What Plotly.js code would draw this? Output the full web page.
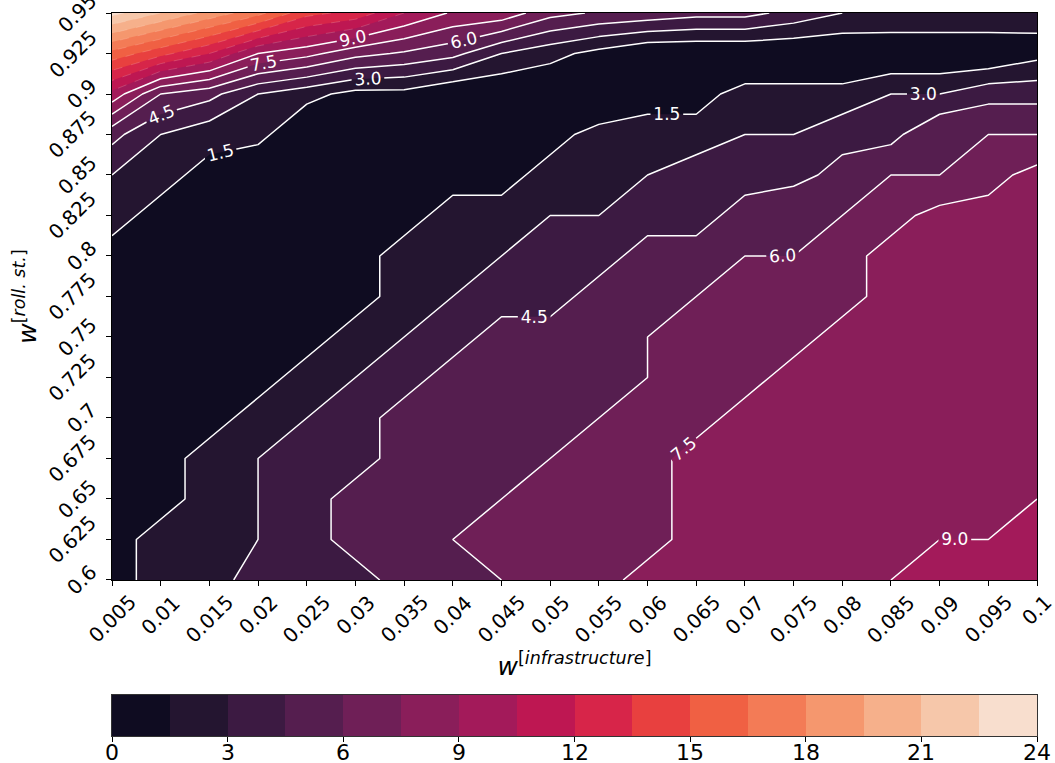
<!DOCTYPE html>
<html>
<head>
<meta charset="utf-8">
<script src="https://cdn.plot.ly/plotly-3.0.1.min.js"></script>
<style>html,body{margin:0;padding:0;background:#fff;}#chart{width:1055px;height:763px;}</style>
</head>
<body>
<div id="chart"></div>
<script>
// x: w[infrastructure], y: w[roll. st.]
const xValues = [0.005,0.01,0.015,0.02,0.025,0.03,0.035,0.04,0.045,0.05,0.055,0.06,0.065,0.07,0.075,0.08,0.085,0.09,0.095,0.1];
const xTickText = ['0.005','0.01','0.015','0.02','0.025','0.03','0.035','0.04','0.045','0.05','0.055','0.06','0.065','0.07','0.075','0.08','0.085','0.09','0.095','0.1'];
const yValues = [0.6,0.625,0.65,0.675,0.7,0.725,0.75,0.775,0.8,0.825,0.85,0.875,0.9,0.925,0.95];
const yTickText = ['0.6','0.625','0.65','0.675','0.7','0.725','0.75','0.775','0.8','0.825','0.85','0.875','0.9','0.925','0.95'];

// z values, one row per y value (bottom to top)
const z_0600 = [1,2,2,4,4,4,5,5,6,7,7,8,8,8,8,8,9,10,10,10];
const z_0625 = [1,2,2,3,4,5,5,6,7,7,7,7,8,8,8,8,8,9,9,10];
const z_0650 = [1,1,2,3,4,5,5,5,6,7,7,7,8,8,8,8,8,8,8,9];
const z_0675 = [0,1,2,3,4,4,5,5,5,6,7,7,8,8,8,8,8,8,8,8];
const z_0700 = [0,1,1,2,3,4,5,5,5,5,6,7,7,8,8,8,8,8,8,8];
const z_0725 = [0,0,1,1,2,3,4,5,5,5,5,6,7,7,8,8,8,8,8,8];
const z_0750 = [0,0,0,1,1,2,3,4,5,5,5,6,7,7,7,8,8,8,8,8];
const z_0775 = [0,0,0,0,1,1,2,3,4,4,5,5,6,7,7,7,8,8,8,8];
const z_0800 = [1,0,0,0,0,1,2,2,3,4,4,5,5,6,6,7,8,8,8,8];
const z_0825 = [2,1,0,0,0,0,1,2,2,3,3,4,4,5,5.8,6,7,8,8,8];
const z_0850 = [3,2,1,0,0,0,0,1,1,2,2,3,4,4,4,5,6,6,7,8];
const z_0875 = [5,3,2,2,0,0,0,0,0,1,2,2,2,3,3,4,4,6,6,6];
const z_0900 = [10,6,5,3,2,1,1,0,0,0,0,1,1,2,2,2,3,3,4,4];
const z_0925 = [16,14,12,9,8,6.5,5.8,5,3,2,1,0,0,0,0,0,0,0,0,1];
const z_0950 = [23,21,19,17,14,13,10.5,8.8,8.5,6.5,5.8,5.5,5,5,4,3,2.9,2.9,2.9,2];

const lineLevels = [1.5, 3, 4.5, 6, 7.5, 9];
const cbTicks = [0,3,6,9,12,15,18,21,24];
const bandMids = [0.75,2.25,3.75,5.25,6.75,8.25,9.75,11.25,12.75,14.25,15.75,17.25,18.75,20.25,21.75,23.25];
const bandColors = ['#0f0c21','#241530','#3c1a42','#551e4f','#6f1f57','#8a1e5a','#a31a5a','#be1752',
                    '#d72549','#e8403f','#f06043','#f37b56','#f5976e','#f6b08b','#f6c7aa','#f8dece'];

const zMatrix = [z_0600,z_0625,z_0650,z_0675,z_0700,z_0725,z_0750,z_0775,z_0800,z_0825,z_0850,z_0875,z_0900,z_0925,z_0950];
const bandScale = bandColors.map((c, k) => [k / (bandColors.length - 1), c]);

const fillTrace = {
  type: 'contour', x: xValues, y: yValues, z: zMatrix,
  autocontour: false,
  contours: {start: 1.5, end: 22.5, size: 1.5, coloring: 'fill', showlines: false},
  colorscale: bandScale, showscale: false,
  line: {smoothing: 0, width: 0}, hoverinfo: 'skip'
};
const seamTrace = {
  type: 'contour', x: xValues, y: yValues, z: zMatrix,
  autocontour: false,
  contours: {start: 10.5, end: 22.5, size: 1.5, coloring: 'none'},
  line: {color: 'rgba(255,225,215,0.3)', width: 0.7, dash: 'dash', smoothing: 0},
  showscale: false, hoverinfo: 'skip'
};
const lineTrace = {
  type: 'contour', x: xValues, y: yValues, z: zMatrix,
  autocontour: false,
  contours: {start: lineLevels[0], end: lineLevels[lineLevels.length - 1], size: 1.5, coloring: 'none',
             showlabels: true, labelfont: {family: 'DejaVu Sans', size: 17, color: 'white'}, labelformat: '.1f'},
  line: {color: 'white', width: 1.5, smoothing: 0},
  showscale: false, hoverinfo: 'skip'
};
const cbTrace = {
  type: 'heatmap', x: bandMids, y: [0], z: [bandMids],
  xaxis: 'x2', yaxis: 'y2',
  colorscale: bandScale, zmin: bandMids[0], zmax: bandMids[bandMids.length - 1],
  showscale: false, hoverinfo: 'skip'
};

const tickFont = {family: 'DejaVu Sans', size: 20, color: '#000'};
const annotations = [];
xValues.forEach((v, i) => annotations.push({
  xref: 'x', yref: 'y', x: v, y: yValues[0], xanchor: 'center', yanchor: 'top', yshift: -9,
  textangle: -45, text: xTickText[i], showarrow: false, font: tickFont, borderpad: 0
}));
yValues.forEach((v, i) => annotations.push({
  xref: 'paper', yref: 'y', x: 0, y: v, xanchor: 'right', yanchor: 'middle', xshift: -9,
  textangle: -45, text: yTickText[i], showarrow: false, font: tickFont, borderpad: 0
}));
cbTicks.forEach(v => annotations.push({
  xref: 'x2', yref: 'paper', x: v, y: 0, xanchor: 'center', yanchor: 'top', yshift: -3,
  text: String(v), showarrow: false, font: {family: 'DejaVu Sans', size: 22, color: '#000'}, borderpad: 0
}));

const layout = {
  width: 1055, height: 763,
  margin: {l: 112, r: 18, t: 13, b: 27},
  paper_bgcolor: '#fff', plot_bgcolor: '#fff',
  showlegend: false,
  annotations: annotations,
  xaxis: {
    domain: [0, 1], anchor: 'y', range: [0.005, 0.1],
    tickvals: xValues, showticklabels: false,
    ticks: 'outside', ticklen: 5, tickwidth: 1, tickcolor: '#000',
    showline: true, mirror: true, linecolor: '#000', linewidth: 1,
    showgrid: false, zeroline: false,
    title: {text: '<i>w</i><sup>[<i>infrastructure</i>]</sup>', font: {family: 'DejaVu Sans', size: 25, color: '#000'}, standoff: 72}
  },
  yaxis: {
    domain: [0.2158, 1], anchor: 'x', range: [0.6, 0.95],
    tickvals: yValues, showticklabels: false,
    ticks: 'outside', ticklen: 5, tickwidth: 1, tickcolor: '#000',
    showline: true, mirror: true, linecolor: '#000', linewidth: 1,
    showgrid: false, zeroline: false,
    title: {text: '<i>w</i><sup>[<i>roll. st.</i>]</sup>', font: {family: 'DejaVu Sans', size: 25, color: '#000'}, standoff: 62}
  },
  xaxis2: {
    domain: [0, 1], anchor: 'y2', range: [0, 24],
    tickvals: cbTicks, showticklabels: false,
    ticks: 'outside', ticklen: 5, tickwidth: 1, tickcolor: '#000',
    showline: true, mirror: true, linecolor: '#333', linewidth: 1,
    showgrid: false, zeroline: false
  },
  yaxis2: {
    domain: [0, 0.0567], anchor: 'x2', range: [-0.5, 0.5],
    showticklabels: false, ticks: '', showline: true, mirror: true, linecolor: '#333', linewidth: 1,
    showgrid: false, zeroline: false
  }
};

Plotly.newPlot('chart', [fillTrace, seamTrace, lineTrace, cbTrace], layout, {displayModeBar: false, staticPlot: true});
</script>
</body>
</html>
